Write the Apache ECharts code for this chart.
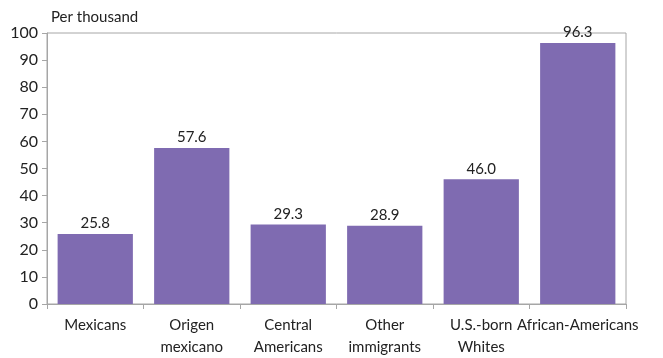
<!DOCTYPE html>
<html><head><meta charset="utf-8">
<script src="https://cdn.jsdelivr.net/npm/echarts@6/dist/echarts.min.js"></script>
<style>html,body{margin:0;padding:0;background:#fff}#c{width:663px;height:358px}</style>
</head><body><div id="c"></div>
<script>
const categories = ["Mexicans", "Origen\nmexicano", "Central\nAmericans", "Other\nimmigrants", "U.S.-born\nWhites", "African-Americans"];
const values = [25.8, 57.6, 29.3, 28.9, 46.0, 96.3];
const yTicks = {min: 0, max: 100, interval: 10};
const unitLabel = "Per thousand";

const font = "Lato, 'Open Sans', sans-serif";
const chart = echarts.init(document.getElementById('c'), null, {renderer: 'canvas'});
chart.setOption({
  animation: false,
  title: {text: unitLabel, left: 46, top: 5, textStyle: {fontFamily: font, fontSize: 15, fontWeight: 'normal', color: '#222'}},
  grid: {left: 47, right: 37, top: 33, bottom: 51, show: true, borderColor: '#a6a6a6', borderWidth: 1, backgroundColor: 'transparent'},
  xAxis: {
    type: 'category', data: categories,
    axisLine: {lineStyle: {color: '#a6a6a6', width: 1}},
    axisTick: {show: true, length: 5, alignWithLabel: false, lineStyle: {color: '#a6a6a6'}},
    axisLabel: {interval: 0, color: '#222', fontFamily: font, fontSize: 15, lineHeight: 22, margin: 10}
  },
  yAxis: {
    type: 'value', min: yTicks.min, max: yTicks.max, interval: yTicks.interval,
    axisLine: {show: true, lineStyle: {color: '#a6a6a6', width: 1}},
    axisTick: {show: true, length: 5, lineStyle: {color: '#a6a6a6'}},
    splitLine: {show: false},
    axisLabel: {color: '#222', fontFamily: font, fontSize: 16, margin: 9}
  },
  series: [{
    type: 'bar', data: values, barCategoryGap: '22%',
    itemStyle: {color: '#7f6bb1'},
    label: {show: true, position: 'top', distance: 3, color: '#222', fontFamily: font, fontSize: 15,
      formatter: p => p.value.toFixed(1)}
  }]
});
</script></body></html>
